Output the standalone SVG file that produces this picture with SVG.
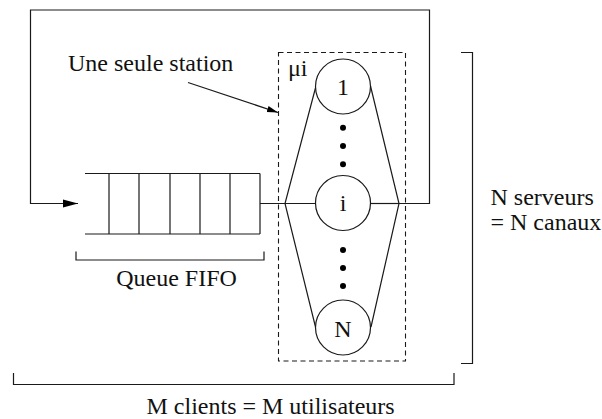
<svg xmlns="http://www.w3.org/2000/svg" width="602" height="419" viewBox="0 0 602 419">
<defs>
<style>
.ln{fill:none;stroke:#1a1a1a;stroke-width:1.2}
.dash{fill:none;stroke:#1a1a1a;stroke-width:1.1;stroke-dasharray:5,3.5}
.t{font-family:'Liberation Serif','Times New Roman',Times,'DejaVu Serif',serif;font-size:24px;fill:#111}
.c{fill:#fff;stroke:#1a1a1a;stroke-width:1.2}
.dot{fill:#000}
</style>
<marker id="ah" markerWidth="16" markerHeight="10" refX="15" refY="5" orient="auto" markerUnits="userSpaceOnUse">
<path d="M0,1 L15,5 L0,9 Z" fill="#000"/>
</marker>
<marker id="ah2" markerWidth="12" markerHeight="8" refX="11" refY="4" orient="auto" markerUnits="userSpaceOnUse">
<path d="M0,0.8 L11,4 L0,7.2 Z" fill="#000"/>
</marker>
</defs>
<rect width="602" height="419" fill="#fff"/>
<g id="connectors">
<path class="ln" d="M399,203.5 H429.5 V10 H30.5 V203.5 H78" marker-end="url(#ah)"/>
<path class="ln" d="M260,203.5 H316"/>
<path class="ln" d="M370,203.5 H399"/>
<path class="ln" d="M316,86 L285,203.5 L315.5,327"/>
<path class="ln" d="M370.5,86 L399,203.5 L371,327"/>
<path class="ln" d="M188,82.5 L278,112.5" marker-end="url(#ah2)"/>
</g>
<g id="station">
<rect class="dash" x="278.5" y="52.5" width="127" height="308.5"/>
<text class="t" x="288" y="76" font-family="Liberation Serif, serif">μi</text>
</g>
<g id="queue">
<path class="ln" d="M85,173.5 H260 M85,234 H260 M109,173.5 V234 M139,173.5 V234 M170,173.5 V234 M200,173.5 V234 M230,173.5 V234 M260,173.5 V234"/>
</g>
<g id="server1">
<circle class="c" cx="343" cy="86.5" r="27.5"/>
<text class="t" x="343" y="94.5" text-anchor="middle">1</text>
</g>
<g id="dots1">
<circle class="dot" cx="343" cy="127.7" r="3"/>
<circle class="dot" cx="343" cy="146" r="3"/>
<circle class="dot" cx="343" cy="164.3" r="3"/>
</g>
<g id="serveri">
<circle class="c" cx="343" cy="203" r="27.5"/>
<text class="t" x="343" y="211" text-anchor="middle">i</text>
</g>
<g id="dots2">
<circle class="dot" cx="343" cy="250" r="3"/>
<circle class="dot" cx="343" cy="268" r="3"/>
<circle class="dot" cx="343" cy="286" r="3"/>
</g>
<g id="serverN">
<circle class="c" cx="343" cy="327.5" r="27.5"/>
<text class="t" x="343" y="336.5" text-anchor="middle">N</text>
</g>
<g id="label-station">
<text class="t" x="68" y="71">Une seule station</text>
</g>
<g id="brace-fifo">
<path class="ln" d="M76,251.5 V260 H264 V251.5"/>
<text class="t" x="176.5" y="285.5" text-anchor="middle">Queue FIFO</text>
</g>
<g id="brace-serveurs">
<path class="ln" d="M461,52.5 H472.5 V363.5 H461"/>
<text class="t" x="490.5" y="205">N serveurs</text>
<text class="t" x="490.5" y="229.5">= N canaux</text>
</g>
<g id="brace-clients">
<path class="ln" d="M13.5,373 V384.5 H454 V373"/>
<text class="t" x="146.5" y="414">M clients = M utilisateurs</text>
</g>
</svg>
